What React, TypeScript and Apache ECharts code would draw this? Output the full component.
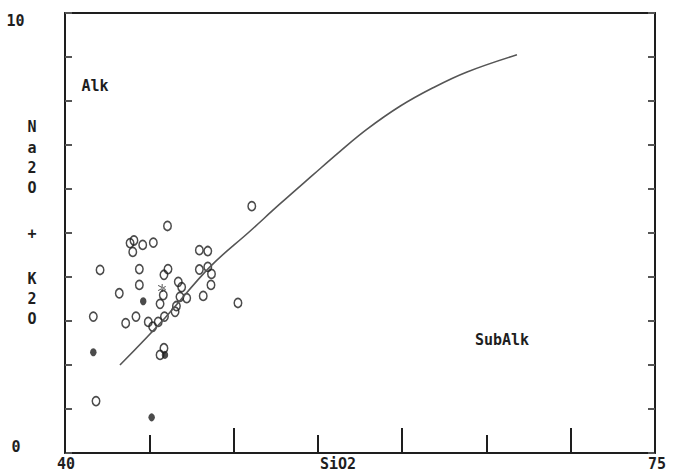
import React, { useEffect, useRef } from "react";
import * as echarts from "echarts";

// SiO2 (x) vs Na2O+K2O (y)
const openPoints: [number, number][] = [
  [51.08, 5.61], [46.08, 5.16], [43.86, 4.77], [44.09, 4.83], [44.02, 4.57],
  [44.61, 4.73], [45.24, 4.78], [42.08, 4.16], [44.41, 4.18], [47.97, 4.61],
  [48.47, 4.59], [47.97, 4.17], [48.47, 4.23], [48.69, 4.07], [48.66, 3.82],
  [44.41, 3.82], [43.22, 3.63], [45.87, 4.05], [46.11, 4.18], [46.72, 3.89],
  [46.92, 3.77], [46.82, 3.55], [47.22, 3.52], [45.83, 3.59], [45.64, 3.39],
  [46.61, 3.34], [46.53, 3.21], [45.90, 3.10], [48.20, 3.57], [50.26, 3.41],
  [41.68, 3.10], [43.60, 2.95], [44.21, 3.10], [44.94, 2.98], [45.20, 2.87],
  [45.53, 2.98], [45.64, 2.23], [45.87, 2.38], [41.84, 1.18],
];
const filledPoints: [number, number][] = [
  [44.64, 3.45], [41.68, 2.29], [45.14, 0.81], [45.93, 2.23],
];
const starPoints: [number, number][] = [[45.75, 3.75]];

// Alkaline / subalkaline dividing curve
const dividerCurve: [number, number][] = [
  [43.26, 2.0], [45.93, 3.07], [48.6, 4.23], [50.97, 5.04], [52.75, 5.66],
  [54.71, 6.32], [56.3, 6.85], [57.92, 7.36], [59.87, 7.88], [61.83, 8.3],
  [63.85, 8.66], [66.81, 9.05],
];

const xMin = 40;
const xMax = 75;
const yMin = 0;
const yMax = 10;
const yAxisChars = ["N", "a", "2", "O", "+", "K", "2", "O"];
const yAxisCharY = [127, 148, 168, 188, 234, 279, 299, 319];

const FONT = "DejaVu Sans Mono";
const INK = "#1e1e1e";

export default function App() {
  const ref = useRef<HTMLDivElement>(null);
  useEffect(() => {
    if (!ref.current) return;
    const chart = echarts.init(ref.current, null, { renderer: "svg" });
    const txt = (text: string, x: number, y: number, align = "center") => ({
      type: "text",
      x,
      y,
      style: {
        text,
        fill: INK,
        font: `bold 15px "${FONT}"`,
        textAlign: align,
        textVerticalAlign: "middle",
      },
    });
    const axisLine = { show: true, lineStyle: { color: INK, width: 2 } };
    chart.setOption({
      animation: false,
      backgroundColor: "#fff",
      grid: { left: 65, right: 18, top: 13, bottom: 21, containLabel: false },
      xAxis: [
        {
          type: "value", min: xMin, max: xMax, interval: 5, position: "bottom",
          axisLine, axisTick: { show: true, inside: true, length: 18, lineStyle: { color: INK, width: 2 } },
          axisLabel: { show: false }, splitLine: { show: false },
        },
        {
          type: "value", min: xMin, max: xMax, interval: 10, position: "bottom",
          axisLine: { show: false },
          axisTick: { show: true, inside: true, length: 25, lineStyle: { color: INK, width: 2 } },
          axisLabel: { show: false }, splitLine: { show: false },
        },
        {
          type: "value", min: xMin, max: xMax, position: "top",
          axisLine, axisTick: { show: false }, axisLabel: { show: false }, splitLine: { show: false },
        },
      ],
      yAxis: [
        {
          type: "value", min: yMin, max: yMax, interval: 1, position: "left",
          axisLine, axisTick: { show: true, inside: true, length: 7, lineStyle: { color: "#555", width: 2 } },
          axisLabel: { show: false }, splitLine: { show: false },
        },
        {
          type: "value", min: yMin, max: yMax, interval: 1, position: "right",
          axisLine, axisTick: { show: true, inside: true, length: 7, lineStyle: { color: "#555", width: 2 } },
          axisLabel: { show: false }, splitLine: { show: false },
        },
      ],
      series: [
        {
          type: "line", data: dividerCurve, smooth: 0.4, showSymbol: false,
          lineStyle: { color: "#555", width: 1.6 },
        },
        {
          type: "scatter", data: openPoints, symbol: "circle", symbolSize: [7.5, 9],
          itemStyle: { color: "rgba(255,255,255,0)", borderColor: INK, borderWidth: 1.6 },
        },
        {
          type: "scatter", data: filledPoints, symbol: "circle", symbolSize: [6.5, 8],
          itemStyle: { color: INK },
        },
        {
          type: "scatter", data: starPoints,
          symbol: "path://M4 0h1v9h-1z M0 2l.5-.8 8 4.8-.5.8z M0 7l.5.8 8-4.8-.5-.8z",
          symbolSize: 8, itemStyle: { color: INK },
        },
      ],
      graphic: [
        txt("10", 15.5, 21),
        txt("0", 16, 447),
        txt("40", 66, 464),
        txt("75", 657, 464),
        txt("SiO2", 338, 464),
        txt("Alk", 95, 86),
        txt("SubAlk", 502, 340),
        ...yAxisChars.map((c, i) => txt(c, 32, yAxisCharY[i])),
      ],
    });
    return () => chart.dispose();
  }, []);
  return (
    <div
      ref={ref}
      style={{ position: "fixed", left: 0, top: 0, width: 673, height: 474 }}
    />
  );
}
